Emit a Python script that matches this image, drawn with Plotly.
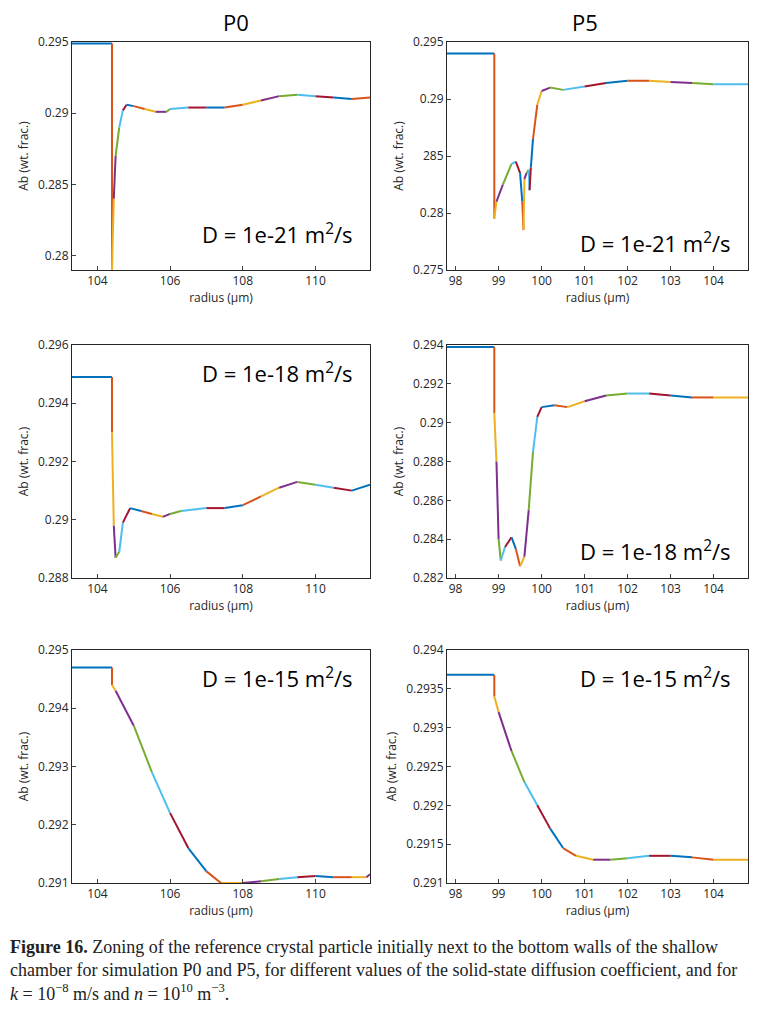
import plotly.graph_objects as go

# ---------------- data ----------------
p0_21_x = [103.3,104.4,104.4,104.45,104.5,104.6,104.7,104.8,105.0,105.3,105.6,105.9,106.0,106.5,107.0,107.5,108.0,108.5,109.0,109.5,110.0,110.5,111.0,111.5]
p0_21_y = [0.2949,0.2949,0.2789,0.2840,0.2870,0.2890,0.2902,0.2906,0.2905,0.2903,0.2901,0.2901,0.2903,0.2904,0.2904,0.2904,0.2906,0.2909,0.2912,0.2913,0.2912,0.2911,0.2910,0.2911]
p5_21_x = [97.8,98.9,98.9,98.95,99.1,99.3,99.4,99.5,99.55,99.58,99.6,99.65,99.7,99.72,99.75,99.8,99.9,100.0,100.2,100.5,101.0,101.5,102.0,102.5,103.0,103.5,104.0,104.8]
p5_21_y = [0.2940,0.2940,0.2795,0.2810,0.2825,0.2843,0.2845,0.2835,0.2810,0.2785,0.2830,0.2835,0.2838,0.2820,0.2840,0.2865,0.2895,0.2907,0.2910,0.2908,0.2911,0.2914,0.2916,0.2916,0.2915,0.2914,0.2913,0.2913]
p0_18_x = [103.3,104.4,104.4,104.45,104.5,104.6,104.7,104.9,105.2,105.5,105.8,106.0,106.3,107.0,107.5,108.0,108.5,109.0,109.5,110.0,110.5,111.0,111.5]
p0_18_y = [0.2949,0.2949,0.2930,0.2898,0.2887,0.2889,0.2899,0.2904,0.2903,0.2902,0.2901,0.2902,0.2903,0.2904,0.2904,0.2905,0.2908,0.2911,0.2913,0.2912,0.2911,0.2910,0.2912]
p5_18_x = [97.8,98.9,98.9,98.95,99.0,99.05,99.15,99.3,99.4,99.5,99.6,99.7,99.8,99.9,100.0,100.3,100.6,101.0,101.5,102.0,102.5,103.0,103.5,104.0,104.8]
p5_18_y = [0.2939,0.2939,0.2905,0.2880,0.2840,0.2829,0.2836,0.2841,0.2835,0.2826,0.2831,0.2855,0.2885,0.2903,0.2908,0.2909,0.2908,0.2911,0.2914,0.2915,0.2915,0.2914,0.2913,0.2913,0.2913]
p0_15_x = [103.3,104.4,104.4,104.5,105.0,105.5,106.0,106.5,107.0,107.4,108.0,108.5,109.0,109.5,110.0,110.5,111.0,111.4,111.5]
p0_15_y = [0.2947,0.2947,0.2944,0.2943,0.2937,0.2929,0.2922,0.2916,0.2912,0.2910,0.2910,0.29103,0.29107,0.2911,0.29112,0.2911,0.2911,0.2911,0.29115]
p5_15_x = [97.8,98.9,98.9,99.0,99.3,99.6,99.9,100.2,100.5,100.8,101.2,101.6,102.0,102.5,103.0,103.5,104.0,104.8]
p5_15_y = [0.29368,0.29368,0.2934,0.2932,0.2927,0.2923,0.2920,0.2917,0.29145,0.29135,0.2913,0.2913,0.29132,0.29135,0.29135,0.29133,0.2913,0.2913]

panels = [
    (p0_21_x, p0_21_y, [103.3,111.5], [0.279,0.295], [0.28,0.285,0.29,0.295], ["0.28","0.285","0.29","0.295"], "D = 1e-21 m<sup>2</sup>/s", 0.16),
    (p5_21_x, p5_21_y, [97.8,104.8], [0.275,0.295], [0.275,0.28,0.285,0.29,0.295], ["0.275","0.28","285","0.29","0.295"], "D = 1e-21 m<sup>2</sup>/s", 0.12),
    (p0_18_x, p0_18_y, [103.3,111.5], [0.288,0.296], [0.288,0.29,0.292,0.294,0.296], ["0.288","0.29","0.292","0.294","0.296"], "D = 1e-18 m<sup>2</sup>/s", 0.88),
    (p5_18_x, p5_18_y, [97.8,104.8], [0.282,0.294], [0.282,0.284,0.286,0.288,0.29,0.292,0.294], ["0.282","0.284","0.286","0.288","0.29","0.292","0.294"], "D = 1e-18 m<sup>2</sup>/s", 0.12),
    (p0_15_x, p0_15_y, [103.3,111.5], [0.291,0.295], [0.291,0.292,0.293,0.294,0.295], ["0.291","0.292","0.293","0.294","0.295"], "D = 1e-15 m<sup>2</sup>/s", 0.88),
    (p5_15_x, p5_15_y, [97.8,104.8], [0.291,0.294], [0.291,0.2915,0.292,0.2925,0.293,0.2935,0.294], ["0.291","0.2915","0.292","0.2925","0.293","0.2935","0.294"], "D = 1e-15 m<sup>2</sup>/s", 0.88),
]
x_ticks_p0 = [104,106,108,110]
x_ticks_p5 = [98,99,100,101,102,103,104]

colors = ["#0072BD","#D95319","#EDB120","#7E2F8E","#77AC30","#4DBEEE","#A2142F"]

W, H = 766, 1024
OFF = 8
xdom = [[(72-OFF)/W, (370-OFF)/W], [(447-OFF)/W, (748-OFF)/W]]
rows = [(42,270),(345,578),(650,883)]

fig = go.Figure()
layout = dict(width=W, height=H, margin=dict(l=0,r=0,t=0,b=0,autoexpand=False), plot_bgcolor="white",
              paper_bgcolor="white", showlegend=False, font=dict(family="Open Sans", size=12, color="#262626"))
annotations = []
for i,(xs,ys,xr,yr,yt,ytt,lab,ly) in enumerate(panels):
    r, c = divmod(i,2)
    n = i+1
    xa = "x" if n==1 else f"x{n}"
    ya = "y" if n==1 else f"y{n}"
    for k in range(len(xs)-1):
        col = colors[0] if k==0 else colors[1] if k==1 else colors[k%7]
        fig.add_trace(go.Scatter(x=xs[k:k+2], y=ys[k:k+2], mode="lines",
                                 line=dict(color=col, width=2), xaxis=xa, yaxis=ya,
                                 hoverinfo="skip"))
    top, bot = rows[r]
    common = dict(showline=True, linecolor="#262626", linewidth=1, mirror=True, ticks="inside",
                  ticklen=4, showgrid=False, zeroline=False, tickfont=dict(size=12), automargin=False)
    layout["xaxis" if n==1 else f"xaxis{n}"] = dict(common, domain=xdom[c], range=xr, anchor=ya,
        tickvals=x_ticks_p0 if c==0 else x_ticks_p5,
        title=dict(text="radius (µm)", font=dict(size=12), standoff=0))
    layout["yaxis" if n==1 else f"yaxis{n}"] = dict(common, domain=[1-(bot-OFF)/H, 1-(top-OFF)/H], range=yr, anchor=xa,
        tickvals=yt, ticktext=ytt, title=dict(text="Ab (wt. frac.)", font=dict(size=12), standoff=6))
    annotations.append(dict(text=lab, x=0.95, y=ly, xref=f"{xa} domain", yref=f"{ya} domain",
                            xanchor="right", yanchor="middle", showarrow=False, font=dict(size=22, color="black")))

annotations.append(dict(text="P0", x=(221-OFF)/W, y=1-(22-OFF)/H, xref="paper", yref="paper", yanchor="middle",
                        showarrow=False, font=dict(size=22,color="black")))
annotations.append(dict(text="P5", x=(600-OFF)/W, y=1-(22-OFF)/H, xref="paper", yref="paper", yanchor="middle",
                        showarrow=False, font=dict(size=22,color="black")))
caption = ("<b>Figure 16.</b> Zoning of the reference crystal particle initially next to the bottom walls of the shallow<br>"
           "chamber for simulation P0 and P5, for different values of the solid-state diffusion coefficient, and for<br>"
           "<i>k</i> = 10<sup>−8</sup> m/s and <i>n</i> = 10<sup>10</sup> m<sup>−3</sup>.")
annotations.append(dict(text=caption, x=0, y=1-(935-OFF)/H, xref="paper", yref="paper", xanchor="left", yanchor="top",
                        align="left", showarrow=False, font=dict(family="Liberation Serif", size=18, color="#222")))
layout["annotations"] = annotations
fig.update_layout(**layout)
fig.write_html("out.html")
